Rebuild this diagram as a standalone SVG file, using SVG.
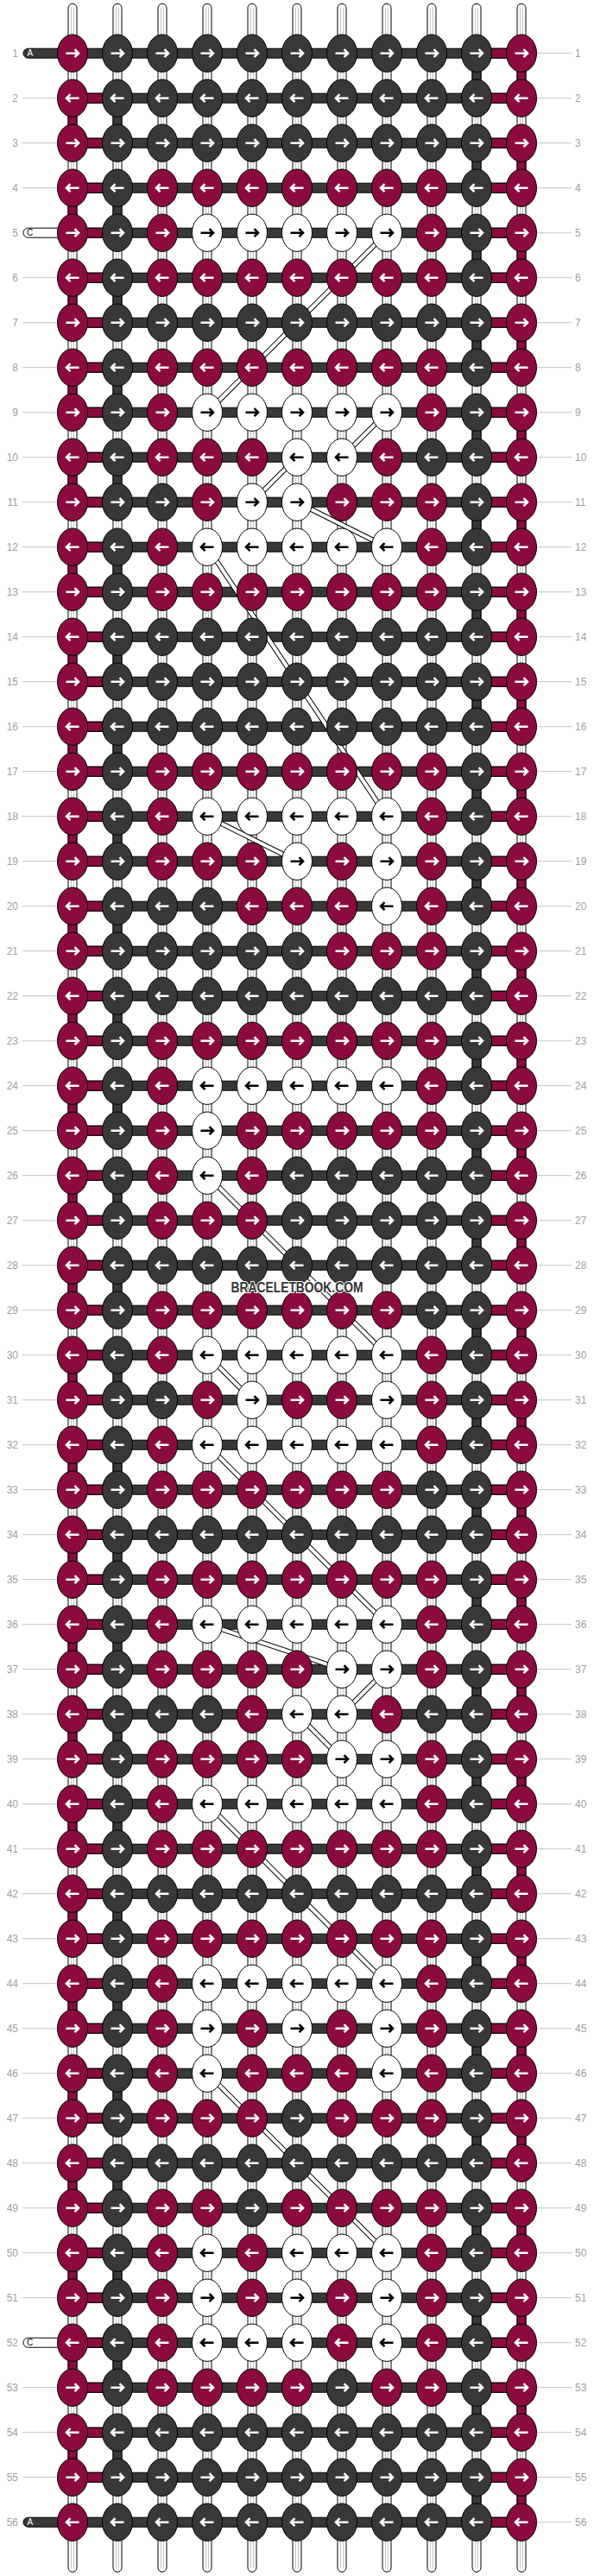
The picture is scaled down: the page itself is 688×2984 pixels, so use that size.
<svg xmlns="http://www.w3.org/2000/svg" width="688" height="2984" viewBox="0 0 688 2984">
<style>
.m{fill:#8b0b3e;stroke:#000;stroke-width:1}
.d{fill:#383838;stroke:#000;stroke-width:1}
.w{fill:#fff;stroke:#000;stroke-width:1}
.aw{fill:none;stroke:#fff;stroke-width:2.6}
.ab{fill:none;stroke:#000;stroke-width:2.6}
.lb{font-family:"Liberation Sans",Arial,sans-serif;font-size:12px;fill:#a0a0a0}
.gl{fill:none;stroke:#c4c4c4;stroke-width:1}
.sg{stroke:#b4b4b4;stroke-width:0.8}
.tab{font-family:"Liberation Sans",Arial,sans-serif;font-size:10px}
</style>
<defs>
<path id="ar" d="M-7.5,0H7M2.5,-4.5L7,0L2.5,4.5"/>
<path id="al" d="M7.5,0H-7M-2.5,-4.5L-7,0L-2.5,4.5"/>
<g id="MR"><ellipse class="m" rx="17.5" ry="21.7"/><use href="#ar" class="aw"/></g>
<g id="ML"><ellipse class="m" rx="17.5" ry="21.7"/><use href="#al" class="aw"/></g>
<g id="DR"><ellipse class="d" rx="17.5" ry="21.7"/><use href="#ar" class="aw"/></g>
<g id="DL"><ellipse class="d" rx="17.5" ry="21.7"/><use href="#al" class="aw"/></g>
<g id="WR"><ellipse class="w" rx="17.5" ry="21.7"/><use href="#ar" class="ab"/></g>
<g id="WL"><ellipse class="w" rx="17.5" ry="21.7"/><use href="#al" class="ab"/></g>
<g id="vL"><rect class="m" x="79" y="15" width="10" height="22"/><rect class="d" x="131" y="15" width="10" height="22"/></g>
<g id="vR"><rect class="d" x="547" y="15" width="10" height="22"/><rect class="m" x="599" y="15" width="10" height="22"/></g>
<g id="hb"><rect class="d" x="84" y="-5.5" width="520" height="11"/><rect class="m" x="84" y="-5.5" width="52" height="11"/><rect class="m" x="552" y="-5.5" width="52" height="11"/></g>
<g id="hbA"><rect class="d" x="84" y="-5.5" width="520" height="11"/><rect class="m" x="552" y="-5.5" width="52" height="11"/></g>
<g id="str"><rect class="w" x="-5" y="4.3" width="10" height="2975" rx="5"/><path class="sg" d="M-1.5,9V2975M1.5,9V2975"/></g>
<path id="fl" fill="none" d="M448,269.7L240,477.7M448,477.7L396,529.7M344,529.7L292,581.7M344,581.7L448,633.7M240,633.7L448,945.7M240,945.7L344,997.7M240,1361.7L448,1569.7M240,1569.7L292,1621.7M240,1673.7L448,1881.7M240,1881.7L396,1933.7M448,1933.7L396,1985.7M344,1985.7L396,2037.7M240,2089.7L448,2297.7M240,2401.7L448,2609.7"/>
</defs>
<rect width="688" height="2984" fill="#fff"/>
<g id="connectors">
<g id="strings">
<use href="#str" x="84"/><use href="#str" x="136"/><use href="#str" x="188"/><use href="#str" x="240"/><use href="#str" x="292"/><use href="#str" x="344"/><use href="#str" x="396"/><use href="#str" x="448"/><use href="#str" x="500"/><use href="#str" x="552"/><use href="#str" x="604"/>
</g>
<g id="vsegs">
<use href="#vR" y="61.7"/><use href="#vL" y="113.7"/><use href="#vR" y="165.7"/><use href="#vL" y="217.7"/><use href="#vR" y="269.7"/><use href="#vL" y="321.7"/><use href="#vR" y="373.7"/><use href="#vL" y="425.7"/><use href="#vR" y="477.7"/><use href="#vL" y="529.7"/><use href="#vR" y="581.7"/><use href="#vL" y="633.7"/><use href="#vR" y="685.7"/><use href="#vL" y="737.7"/><use href="#vR" y="789.7"/><use href="#vL" y="841.7"/><use href="#vR" y="893.7"/><use href="#vL" y="945.7"/><use href="#vR" y="997.7"/><use href="#vL" y="1049.7"/><use href="#vR" y="1101.7"/><use href="#vL" y="1153.7"/><use href="#vR" y="1205.7"/><use href="#vL" y="1257.7"/><use href="#vR" y="1309.7"/><use href="#vL" y="1361.7"/><use href="#vR" y="1413.7"/><use href="#vL" y="1465.7"/><use href="#vR" y="1517.7"/><use href="#vL" y="1569.7"/><use href="#vR" y="1621.7"/><use href="#vL" y="1673.7"/><use href="#vR" y="1725.7"/><use href="#vL" y="1777.7"/><use href="#vR" y="1829.7"/><use href="#vL" y="1881.7"/><use href="#vR" y="1933.7"/><use href="#vL" y="1985.7"/><use href="#vR" y="2037.7"/><use href="#vL" y="2089.7"/><use href="#vR" y="2141.7"/><use href="#vL" y="2193.7"/><use href="#vR" y="2245.7"/><use href="#vL" y="2297.7"/><use href="#vR" y="2349.7"/><use href="#vL" y="2401.7"/><use href="#vR" y="2453.7"/><use href="#vL" y="2505.7"/><use href="#vR" y="2557.7"/><use href="#vL" y="2609.7"/><use href="#vR" y="2661.7"/><use href="#vL" y="2713.7"/><use href="#vR" y="2765.7"/><use href="#vL" y="2817.7"/><use href="#vR" y="2869.7"/>
</g>
<g id="hbars">
<use href="#hbA" y="61.7"/><use href="#hb" y="113.7"/><use href="#hb" y="165.7"/><use href="#hb" y="217.7"/><use href="#hb" y="269.7"/><use href="#hb" y="321.7"/><use href="#hb" y="373.7"/><use href="#hb" y="425.7"/><use href="#hb" y="477.7"/><use href="#hb" y="529.7"/><use href="#hb" y="581.7"/><use href="#hb" y="633.7"/><use href="#hb" y="685.7"/><use href="#hb" y="737.7"/><use href="#hb" y="789.7"/><use href="#hb" y="841.7"/><use href="#hb" y="893.7"/><use href="#hb" y="945.7"/><use href="#hb" y="997.7"/><use href="#hb" y="1049.7"/><use href="#hb" y="1101.7"/><use href="#hb" y="1153.7"/><use href="#hb" y="1205.7"/><use href="#hb" y="1257.7"/><use href="#hb" y="1309.7"/><use href="#hb" y="1361.7"/><use href="#hb" y="1413.7"/><use href="#hb" y="1465.7"/><use href="#hb" y="1517.7"/><use href="#hb" y="1569.7"/><use href="#hb" y="1621.7"/><use href="#hb" y="1673.7"/><use href="#hb" y="1725.7"/><use href="#hb" y="1777.7"/><use href="#hb" y="1829.7"/><use href="#hb" y="1881.7"/><use href="#hb" y="1933.7"/><use href="#hb" y="1985.7"/><use href="#hb" y="2037.7"/><use href="#hb" y="2089.7"/><use href="#hb" y="2141.7"/><use href="#hb" y="2193.7"/><use href="#hb" y="2245.7"/><use href="#hb" y="2297.7"/><use href="#hb" y="2349.7"/><use href="#hb" y="2401.7"/><use href="#hb" y="2453.7"/><use href="#hb" y="2505.7"/><use href="#hb" y="2557.7"/><use href="#hb" y="2609.7"/><use href="#hb" y="2661.7"/><use href="#hb" y="2713.7"/><use href="#hb" y="2765.7"/><use href="#hb" y="2817.7"/><use href="#hb" y="2869.7"/><use href="#hbA" y="2921.7"/>
</g>
<g id="tabs">
<rect class="d" x="27" y="56.2" width="70" height="11" rx="5.5"/><text class="tab" x="31.5" y="65.3" fill="#fff">A</text>
<rect class="w" x="27" y="264.2" width="50" height="11" rx="5.5"/><text class="tab" x="31" y="273.3" fill="#000">C</text>
<rect class="w" x="27" y="2708.2" width="50" height="11" rx="5.5"/><text class="tab" x="31" y="2717.3" fill="#000">C</text>
<rect class="d" x="27" y="2916.2" width="70" height="11" rx="5.5"/><text class="tab" x="31.5" y="2925.3" fill="#fff">A</text>
</g>
<g id="floats">
<use href="#fl" stroke="#000" stroke-width="6"/>
<use href="#fl" stroke="#fff" stroke-width="4"/>
</g>
</g>
<g id="knots">
<g id="r1" transform="translate(0,61.7)"><use id="k1_0" href="#MR" x="84"/><use id="k1_1" href="#DR" x="136"/><use id="k1_2" href="#DR" x="188"/><use id="k1_3" href="#DR" x="240"/><use id="k1_4" href="#DR" x="292"/><use id="k1_5" href="#DR" x="344"/><use id="k1_6" href="#DR" x="396"/><use id="k1_7" href="#DR" x="448"/><use id="k1_8" href="#DR" x="500"/><use id="k1_9" href="#DR" x="552"/><use id="k1_10" href="#MR" x="604"/></g>
<g id="r2" transform="translate(0,113.7)"><use id="k2_0" href="#ML" x="84"/><use id="k2_1" href="#DL" x="136"/><use id="k2_2" href="#DL" x="188"/><use id="k2_3" href="#DL" x="240"/><use id="k2_4" href="#DL" x="292"/><use id="k2_5" href="#DL" x="344"/><use id="k2_6" href="#DL" x="396"/><use id="k2_7" href="#DL" x="448"/><use id="k2_8" href="#DL" x="500"/><use id="k2_9" href="#DL" x="552"/><use id="k2_10" href="#ML" x="604"/></g>
<g id="r3" transform="translate(0,165.7)"><use id="k3_0" href="#MR" x="84"/><use id="k3_1" href="#DR" x="136"/><use id="k3_2" href="#DR" x="188"/><use id="k3_3" href="#DR" x="240"/><use id="k3_4" href="#DR" x="292"/><use id="k3_5" href="#DR" x="344"/><use id="k3_6" href="#DR" x="396"/><use id="k3_7" href="#DR" x="448"/><use id="k3_8" href="#DR" x="500"/><use id="k3_9" href="#DR" x="552"/><use id="k3_10" href="#MR" x="604"/></g>
<g id="r4" transform="translate(0,217.7)"><use id="k4_0" href="#ML" x="84"/><use id="k4_1" href="#DL" x="136"/><use id="k4_2" href="#ML" x="188"/><use id="k4_3" href="#ML" x="240"/><use id="k4_4" href="#ML" x="292"/><use id="k4_5" href="#ML" x="344"/><use id="k4_6" href="#ML" x="396"/><use id="k4_7" href="#ML" x="448"/><use id="k4_8" href="#ML" x="500"/><use id="k4_9" href="#DL" x="552"/><use id="k4_10" href="#ML" x="604"/></g>
<g id="r5" transform="translate(0,269.7)"><use id="k5_0" href="#MR" x="84"/><use id="k5_1" href="#DR" x="136"/><use id="k5_2" href="#MR" x="188"/><use id="k5_3" href="#WR" x="240"/><use id="k5_4" href="#WR" x="292"/><use id="k5_5" href="#WR" x="344"/><use id="k5_6" href="#WR" x="396"/><use id="k5_7" href="#WR" x="448"/><use id="k5_8" href="#MR" x="500"/><use id="k5_9" href="#DR" x="552"/><use id="k5_10" href="#MR" x="604"/></g>
<g id="r6" transform="translate(0,321.7)"><use id="k6_0" href="#ML" x="84"/><use id="k6_1" href="#DL" x="136"/><use id="k6_2" href="#ML" x="188"/><use id="k6_3" href="#ML" x="240"/><use id="k6_4" href="#ML" x="292"/><use id="k6_5" href="#ML" x="344"/><use id="k6_6" href="#ML" x="396"/><use id="k6_7" href="#ML" x="448"/><use id="k6_8" href="#ML" x="500"/><use id="k6_9" href="#DL" x="552"/><use id="k6_10" href="#ML" x="604"/></g>
<g id="r7" transform="translate(0,373.7)"><use id="k7_0" href="#MR" x="84"/><use id="k7_1" href="#DR" x="136"/><use id="k7_2" href="#DR" x="188"/><use id="k7_3" href="#DR" x="240"/><use id="k7_4" href="#DR" x="292"/><use id="k7_5" href="#DR" x="344"/><use id="k7_6" href="#DR" x="396"/><use id="k7_7" href="#DR" x="448"/><use id="k7_8" href="#DR" x="500"/><use id="k7_9" href="#DR" x="552"/><use id="k7_10" href="#MR" x="604"/></g>
<g id="r8" transform="translate(0,425.7)"><use id="k8_0" href="#ML" x="84"/><use id="k8_1" href="#DL" x="136"/><use id="k8_2" href="#ML" x="188"/><use id="k8_3" href="#ML" x="240"/><use id="k8_4" href="#ML" x="292"/><use id="k8_5" href="#ML" x="344"/><use id="k8_6" href="#ML" x="396"/><use id="k8_7" href="#ML" x="448"/><use id="k8_8" href="#ML" x="500"/><use id="k8_9" href="#DL" x="552"/><use id="k8_10" href="#ML" x="604"/></g>
<g id="r9" transform="translate(0,477.7)"><use id="k9_0" href="#MR" x="84"/><use id="k9_1" href="#DR" x="136"/><use id="k9_2" href="#MR" x="188"/><use id="k9_3" href="#WR" x="240"/><use id="k9_4" href="#WR" x="292"/><use id="k9_5" href="#WR" x="344"/><use id="k9_6" href="#WR" x="396"/><use id="k9_7" href="#WR" x="448"/><use id="k9_8" href="#MR" x="500"/><use id="k9_9" href="#DR" x="552"/><use id="k9_10" href="#MR" x="604"/></g>
<g id="r10" transform="translate(0,529.7)"><use id="k10_0" href="#ML" x="84"/><use id="k10_1" href="#DL" x="136"/><use id="k10_2" href="#ML" x="188"/><use id="k10_3" href="#ML" x="240"/><use id="k10_4" href="#ML" x="292"/><use id="k10_5" href="#WL" x="344"/><use id="k10_6" href="#WL" x="396"/><use id="k10_7" href="#ML" x="448"/><use id="k10_8" href="#DL" x="500"/><use id="k10_9" href="#DL" x="552"/><use id="k10_10" href="#ML" x="604"/></g>
<g id="r11" transform="translate(0,581.7)"><use id="k11_0" href="#MR" x="84"/><use id="k11_1" href="#DR" x="136"/><use id="k11_2" href="#DR" x="188"/><use id="k11_3" href="#MR" x="240"/><use id="k11_4" href="#WR" x="292"/><use id="k11_5" href="#WR" x="344"/><use id="k11_6" href="#MR" x="396"/><use id="k11_7" href="#MR" x="448"/><use id="k11_8" href="#MR" x="500"/><use id="k11_9" href="#DR" x="552"/><use id="k11_10" href="#MR" x="604"/></g>
<g id="r12" transform="translate(0,633.7)"><use id="k12_0" href="#ML" x="84"/><use id="k12_1" href="#DL" x="136"/><use id="k12_2" href="#ML" x="188"/><use id="k12_3" href="#WL" x="240"/><use id="k12_4" href="#WL" x="292"/><use id="k12_5" href="#WL" x="344"/><use id="k12_6" href="#WL" x="396"/><use id="k12_7" href="#WL" x="448"/><use id="k12_8" href="#ML" x="500"/><use id="k12_9" href="#DL" x="552"/><use id="k12_10" href="#ML" x="604"/></g>
<g id="r13" transform="translate(0,685.7)"><use id="k13_0" href="#MR" x="84"/><use id="k13_1" href="#DR" x="136"/><use id="k13_2" href="#MR" x="188"/><use id="k13_3" href="#MR" x="240"/><use id="k13_4" href="#MR" x="292"/><use id="k13_5" href="#MR" x="344"/><use id="k13_6" href="#MR" x="396"/><use id="k13_7" href="#MR" x="448"/><use id="k13_8" href="#MR" x="500"/><use id="k13_9" href="#DR" x="552"/><use id="k13_10" href="#MR" x="604"/></g>
<g id="r14" transform="translate(0,737.7)"><use id="k14_0" href="#ML" x="84"/><use id="k14_1" href="#DL" x="136"/><use id="k14_2" href="#DL" x="188"/><use id="k14_3" href="#DL" x="240"/><use id="k14_4" href="#DL" x="292"/><use id="k14_5" href="#DL" x="344"/><use id="k14_6" href="#DL" x="396"/><use id="k14_7" href="#DL" x="448"/><use id="k14_8" href="#DL" x="500"/><use id="k14_9" href="#DL" x="552"/><use id="k14_10" href="#ML" x="604"/></g>
<g id="r15" transform="translate(0,789.7)"><use id="k15_0" href="#MR" x="84"/><use id="k15_1" href="#DR" x="136"/><use id="k15_2" href="#DR" x="188"/><use id="k15_3" href="#DR" x="240"/><use id="k15_4" href="#DR" x="292"/><use id="k15_5" href="#DR" x="344"/><use id="k15_6" href="#DR" x="396"/><use id="k15_7" href="#DR" x="448"/><use id="k15_8" href="#DR" x="500"/><use id="k15_9" href="#DR" x="552"/><use id="k15_10" href="#MR" x="604"/></g>
<g id="r16" transform="translate(0,841.7)"><use id="k16_0" href="#ML" x="84"/><use id="k16_1" href="#DL" x="136"/><use id="k16_2" href="#DL" x="188"/><use id="k16_3" href="#DL" x="240"/><use id="k16_4" href="#DL" x="292"/><use id="k16_5" href="#DL" x="344"/><use id="k16_6" href="#DL" x="396"/><use id="k16_7" href="#DL" x="448"/><use id="k16_8" href="#DL" x="500"/><use id="k16_9" href="#DL" x="552"/><use id="k16_10" href="#ML" x="604"/></g>
<g id="r17" transform="translate(0,893.7)"><use id="k17_0" href="#MR" x="84"/><use id="k17_1" href="#DR" x="136"/><use id="k17_2" href="#MR" x="188"/><use id="k17_3" href="#MR" x="240"/><use id="k17_4" href="#MR" x="292"/><use id="k17_5" href="#MR" x="344"/><use id="k17_6" href="#MR" x="396"/><use id="k17_7" href="#MR" x="448"/><use id="k17_8" href="#MR" x="500"/><use id="k17_9" href="#DR" x="552"/><use id="k17_10" href="#MR" x="604"/></g>
<g id="r18" transform="translate(0,945.7)"><use id="k18_0" href="#ML" x="84"/><use id="k18_1" href="#DL" x="136"/><use id="k18_2" href="#ML" x="188"/><use id="k18_3" href="#WL" x="240"/><use id="k18_4" href="#WL" x="292"/><use id="k18_5" href="#WL" x="344"/><use id="k18_6" href="#WL" x="396"/><use id="k18_7" href="#WL" x="448"/><use id="k18_8" href="#ML" x="500"/><use id="k18_9" href="#DL" x="552"/><use id="k18_10" href="#ML" x="604"/></g>
<g id="r19" transform="translate(0,997.7)"><use id="k19_0" href="#MR" x="84"/><use id="k19_1" href="#DR" x="136"/><use id="k19_2" href="#MR" x="188"/><use id="k19_3" href="#MR" x="240"/><use id="k19_4" href="#MR" x="292"/><use id="k19_5" href="#WR" x="344"/><use id="k19_6" href="#MR" x="396"/><use id="k19_7" href="#WR" x="448"/><use id="k19_8" href="#MR" x="500"/><use id="k19_9" href="#DR" x="552"/><use id="k19_10" href="#MR" x="604"/></g>
<g id="r20" transform="translate(0,1049.7)"><use id="k20_0" href="#ML" x="84"/><use id="k20_1" href="#DL" x="136"/><use id="k20_2" href="#DL" x="188"/><use id="k20_3" href="#DL" x="240"/><use id="k20_4" href="#ML" x="292"/><use id="k20_5" href="#ML" x="344"/><use id="k20_6" href="#ML" x="396"/><use id="k20_7" href="#WL" x="448"/><use id="k20_8" href="#ML" x="500"/><use id="k20_9" href="#DL" x="552"/><use id="k20_10" href="#ML" x="604"/></g>
<g id="r21" transform="translate(0,1101.7)"><use id="k21_0" href="#MR" x="84"/><use id="k21_1" href="#DR" x="136"/><use id="k21_2" href="#DR" x="188"/><use id="k21_3" href="#DR" x="240"/><use id="k21_4" href="#DR" x="292"/><use id="k21_5" href="#DR" x="344"/><use id="k21_6" href="#MR" x="396"/><use id="k21_7" href="#MR" x="448"/><use id="k21_8" href="#MR" x="500"/><use id="k21_9" href="#DR" x="552"/><use id="k21_10" href="#MR" x="604"/></g>
<g id="r22" transform="translate(0,1153.7)"><use id="k22_0" href="#ML" x="84"/><use id="k22_1" href="#DL" x="136"/><use id="k22_2" href="#DL" x="188"/><use id="k22_3" href="#DL" x="240"/><use id="k22_4" href="#DL" x="292"/><use id="k22_5" href="#DL" x="344"/><use id="k22_6" href="#DL" x="396"/><use id="k22_7" href="#DL" x="448"/><use id="k22_8" href="#DL" x="500"/><use id="k22_9" href="#DL" x="552"/><use id="k22_10" href="#ML" x="604"/></g>
<g id="r23" transform="translate(0,1205.7)"><use id="k23_0" href="#MR" x="84"/><use id="k23_1" href="#DR" x="136"/><use id="k23_2" href="#MR" x="188"/><use id="k23_3" href="#MR" x="240"/><use id="k23_4" href="#MR" x="292"/><use id="k23_5" href="#MR" x="344"/><use id="k23_6" href="#MR" x="396"/><use id="k23_7" href="#MR" x="448"/><use id="k23_8" href="#MR" x="500"/><use id="k23_9" href="#DR" x="552"/><use id="k23_10" href="#MR" x="604"/></g>
<g id="r24" transform="translate(0,1257.7)"><use id="k24_0" href="#ML" x="84"/><use id="k24_1" href="#DL" x="136"/><use id="k24_2" href="#ML" x="188"/><use id="k24_3" href="#WL" x="240"/><use id="k24_4" href="#WL" x="292"/><use id="k24_5" href="#WL" x="344"/><use id="k24_6" href="#WL" x="396"/><use id="k24_7" href="#WL" x="448"/><use id="k24_8" href="#ML" x="500"/><use id="k24_9" href="#DL" x="552"/><use id="k24_10" href="#ML" x="604"/></g>
<g id="r25" transform="translate(0,1309.7)"><use id="k25_0" href="#MR" x="84"/><use id="k25_1" href="#DR" x="136"/><use id="k25_2" href="#MR" x="188"/><use id="k25_3" href="#WR" x="240"/><use id="k25_4" href="#MR" x="292"/><use id="k25_5" href="#MR" x="344"/><use id="k25_6" href="#MR" x="396"/><use id="k25_7" href="#MR" x="448"/><use id="k25_8" href="#MR" x="500"/><use id="k25_9" href="#DR" x="552"/><use id="k25_10" href="#MR" x="604"/></g>
<g id="r26" transform="translate(0,1361.7)"><use id="k26_0" href="#ML" x="84"/><use id="k26_1" href="#DL" x="136"/><use id="k26_2" href="#ML" x="188"/><use id="k26_3" href="#WL" x="240"/><use id="k26_4" href="#ML" x="292"/><use id="k26_5" href="#DL" x="344"/><use id="k26_6" href="#DL" x="396"/><use id="k26_7" href="#DL" x="448"/><use id="k26_8" href="#DL" x="500"/><use id="k26_9" href="#DL" x="552"/><use id="k26_10" href="#ML" x="604"/></g>
<g id="r27" transform="translate(0,1413.7)"><use id="k27_0" href="#MR" x="84"/><use id="k27_1" href="#DR" x="136"/><use id="k27_2" href="#MR" x="188"/><use id="k27_3" href="#MR" x="240"/><use id="k27_4" href="#MR" x="292"/><use id="k27_5" href="#DR" x="344"/><use id="k27_6" href="#DR" x="396"/><use id="k27_7" href="#DR" x="448"/><use id="k27_8" href="#DR" x="500"/><use id="k27_9" href="#DR" x="552"/><use id="k27_10" href="#MR" x="604"/></g>
<g id="r28" transform="translate(0,1465.7)"><use id="k28_0" href="#ML" x="84"/><use id="k28_1" href="#DL" x="136"/><use id="k28_2" href="#DL" x="188"/><use id="k28_3" href="#DL" x="240"/><use id="k28_4" href="#DL" x="292"/><use id="k28_5" href="#DL" x="344"/><use id="k28_6" href="#DL" x="396"/><use id="k28_7" href="#DL" x="448"/><use id="k28_8" href="#DL" x="500"/><use id="k28_9" href="#DL" x="552"/><use id="k28_10" href="#ML" x="604"/></g>
<g id="r29" transform="translate(0,1517.7)"><use id="k29_0" href="#MR" x="84"/><use id="k29_1" href="#DR" x="136"/><use id="k29_2" href="#MR" x="188"/><use id="k29_3" href="#MR" x="240"/><use id="k29_4" href="#MR" x="292"/><use id="k29_5" href="#MR" x="344"/><use id="k29_6" href="#MR" x="396"/><use id="k29_7" href="#MR" x="448"/><use id="k29_8" href="#DR" x="500"/><use id="k29_9" href="#DR" x="552"/><use id="k29_10" href="#MR" x="604"/></g>
<g id="r30" transform="translate(0,1569.7)"><use id="k30_0" href="#ML" x="84"/><use id="k30_1" href="#DL" x="136"/><use id="k30_2" href="#ML" x="188"/><use id="k30_3" href="#WL" x="240"/><use id="k30_4" href="#WL" x="292"/><use id="k30_5" href="#WL" x="344"/><use id="k30_6" href="#WL" x="396"/><use id="k30_7" href="#WL" x="448"/><use id="k30_8" href="#ML" x="500"/><use id="k30_9" href="#DL" x="552"/><use id="k30_10" href="#ML" x="604"/></g>
<g id="r31" transform="translate(0,1621.7)"><use id="k31_0" href="#MR" x="84"/><use id="k31_1" href="#DR" x="136"/><use id="k31_2" href="#DR" x="188"/><use id="k31_3" href="#MR" x="240"/><use id="k31_4" href="#WR" x="292"/><use id="k31_5" href="#MR" x="344"/><use id="k31_6" href="#MR" x="396"/><use id="k31_7" href="#WR" x="448"/><use id="k31_8" href="#MR" x="500"/><use id="k31_9" href="#DR" x="552"/><use id="k31_10" href="#MR" x="604"/></g>
<g id="r32" transform="translate(0,1673.7)"><use id="k32_0" href="#ML" x="84"/><use id="k32_1" href="#DL" x="136"/><use id="k32_2" href="#ML" x="188"/><use id="k32_3" href="#WL" x="240"/><use id="k32_4" href="#WL" x="292"/><use id="k32_5" href="#WL" x="344"/><use id="k32_6" href="#WL" x="396"/><use id="k32_7" href="#WL" x="448"/><use id="k32_8" href="#ML" x="500"/><use id="k32_9" href="#DL" x="552"/><use id="k32_10" href="#ML" x="604"/></g>
<g id="r33" transform="translate(0,1725.7)"><use id="k33_0" href="#MR" x="84"/><use id="k33_1" href="#DR" x="136"/><use id="k33_2" href="#MR" x="188"/><use id="k33_3" href="#MR" x="240"/><use id="k33_4" href="#MR" x="292"/><use id="k33_5" href="#MR" x="344"/><use id="k33_6" href="#MR" x="396"/><use id="k33_7" href="#MR" x="448"/><use id="k33_8" href="#DR" x="500"/><use id="k33_9" href="#DR" x="552"/><use id="k33_10" href="#MR" x="604"/></g>
<g id="r34" transform="translate(0,1777.7)"><use id="k34_0" href="#ML" x="84"/><use id="k34_1" href="#DL" x="136"/><use id="k34_2" href="#DL" x="188"/><use id="k34_3" href="#DL" x="240"/><use id="k34_4" href="#DL" x="292"/><use id="k34_5" href="#DL" x="344"/><use id="k34_6" href="#DL" x="396"/><use id="k34_7" href="#DL" x="448"/><use id="k34_8" href="#DL" x="500"/><use id="k34_9" href="#DL" x="552"/><use id="k34_10" href="#ML" x="604"/></g>
<g id="r35" transform="translate(0,1829.7)"><use id="k35_0" href="#MR" x="84"/><use id="k35_1" href="#DR" x="136"/><use id="k35_2" href="#MR" x="188"/><use id="k35_3" href="#MR" x="240"/><use id="k35_4" href="#MR" x="292"/><use id="k35_5" href="#MR" x="344"/><use id="k35_6" href="#MR" x="396"/><use id="k35_7" href="#MR" x="448"/><use id="k35_8" href="#MR" x="500"/><use id="k35_9" href="#DR" x="552"/><use id="k35_10" href="#MR" x="604"/></g>
<g id="r36" transform="translate(0,1881.7)"><use id="k36_0" href="#ML" x="84"/><use id="k36_1" href="#DL" x="136"/><use id="k36_2" href="#ML" x="188"/><use id="k36_3" href="#WL" x="240"/><use id="k36_4" href="#WL" x="292"/><use id="k36_5" href="#WL" x="344"/><use id="k36_6" href="#WL" x="396"/><use id="k36_7" href="#WL" x="448"/><use id="k36_8" href="#ML" x="500"/><use id="k36_9" href="#DL" x="552"/><use id="k36_10" href="#ML" x="604"/></g>
<g id="r37" transform="translate(0,1933.7)"><use id="k37_0" href="#MR" x="84"/><use id="k37_1" href="#DR" x="136"/><use id="k37_2" href="#MR" x="188"/><use id="k37_3" href="#MR" x="240"/><use id="k37_4" href="#MR" x="292"/><use id="k37_5" href="#MR" x="344"/><use id="k37_6" href="#WR" x="396"/><use id="k37_7" href="#WR" x="448"/><use id="k37_8" href="#MR" x="500"/><use id="k37_9" href="#DR" x="552"/><use id="k37_10" href="#MR" x="604"/></g>
<g id="r38" transform="translate(0,1985.7)"><use id="k38_0" href="#ML" x="84"/><use id="k38_1" href="#DL" x="136"/><use id="k38_2" href="#DL" x="188"/><use id="k38_3" href="#DL" x="240"/><use id="k38_4" href="#ML" x="292"/><use id="k38_5" href="#WL" x="344"/><use id="k38_6" href="#WL" x="396"/><use id="k38_7" href="#ML" x="448"/><use id="k38_8" href="#DL" x="500"/><use id="k38_9" href="#DL" x="552"/><use id="k38_10" href="#ML" x="604"/></g>
<g id="r39" transform="translate(0,2037.7)"><use id="k39_0" href="#MR" x="84"/><use id="k39_1" href="#DR" x="136"/><use id="k39_2" href="#MR" x="188"/><use id="k39_3" href="#MR" x="240"/><use id="k39_4" href="#MR" x="292"/><use id="k39_5" href="#MR" x="344"/><use id="k39_6" href="#WR" x="396"/><use id="k39_7" href="#WR" x="448"/><use id="k39_8" href="#MR" x="500"/><use id="k39_9" href="#DR" x="552"/><use id="k39_10" href="#MR" x="604"/></g>
<g id="r40" transform="translate(0,2089.7)"><use id="k40_0" href="#ML" x="84"/><use id="k40_1" href="#DL" x="136"/><use id="k40_2" href="#ML" x="188"/><use id="k40_3" href="#WL" x="240"/><use id="k40_4" href="#WL" x="292"/><use id="k40_5" href="#WL" x="344"/><use id="k40_6" href="#WL" x="396"/><use id="k40_7" href="#WL" x="448"/><use id="k40_8" href="#ML" x="500"/><use id="k40_9" href="#DL" x="552"/><use id="k40_10" href="#ML" x="604"/></g>
<g id="r41" transform="translate(0,2141.7)"><use id="k41_0" href="#MR" x="84"/><use id="k41_1" href="#DR" x="136"/><use id="k41_2" href="#MR" x="188"/><use id="k41_3" href="#MR" x="240"/><use id="k41_4" href="#MR" x="292"/><use id="k41_5" href="#MR" x="344"/><use id="k41_6" href="#MR" x="396"/><use id="k41_7" href="#MR" x="448"/><use id="k41_8" href="#MR" x="500"/><use id="k41_9" href="#DR" x="552"/><use id="k41_10" href="#MR" x="604"/></g>
<g id="r42" transform="translate(0,2193.7)"><use id="k42_0" href="#ML" x="84"/><use id="k42_1" href="#DL" x="136"/><use id="k42_2" href="#DL" x="188"/><use id="k42_3" href="#DL" x="240"/><use id="k42_4" href="#DL" x="292"/><use id="k42_5" href="#DL" x="344"/><use id="k42_6" href="#DL" x="396"/><use id="k42_7" href="#DL" x="448"/><use id="k42_8" href="#DL" x="500"/><use id="k42_9" href="#DL" x="552"/><use id="k42_10" href="#ML" x="604"/></g>
<g id="r43" transform="translate(0,2245.7)"><use id="k43_0" href="#MR" x="84"/><use id="k43_1" href="#DR" x="136"/><use id="k43_2" href="#MR" x="188"/><use id="k43_3" href="#MR" x="240"/><use id="k43_4" href="#MR" x="292"/><use id="k43_5" href="#MR" x="344"/><use id="k43_6" href="#MR" x="396"/><use id="k43_7" href="#MR" x="448"/><use id="k43_8" href="#MR" x="500"/><use id="k43_9" href="#DR" x="552"/><use id="k43_10" href="#MR" x="604"/></g>
<g id="r44" transform="translate(0,2297.7)"><use id="k44_0" href="#ML" x="84"/><use id="k44_1" href="#DL" x="136"/><use id="k44_2" href="#ML" x="188"/><use id="k44_3" href="#WL" x="240"/><use id="k44_4" href="#WL" x="292"/><use id="k44_5" href="#WL" x="344"/><use id="k44_6" href="#WL" x="396"/><use id="k44_7" href="#WL" x="448"/><use id="k44_8" href="#ML" x="500"/><use id="k44_9" href="#DL" x="552"/><use id="k44_10" href="#ML" x="604"/></g>
<g id="r45" transform="translate(0,2349.7)"><use id="k45_0" href="#MR" x="84"/><use id="k45_1" href="#DR" x="136"/><use id="k45_2" href="#MR" x="188"/><use id="k45_3" href="#WR" x="240"/><use id="k45_4" href="#MR" x="292"/><use id="k45_5" href="#WR" x="344"/><use id="k45_6" href="#MR" x="396"/><use id="k45_7" href="#WR" x="448"/><use id="k45_8" href="#MR" x="500"/><use id="k45_9" href="#DR" x="552"/><use id="k45_10" href="#MR" x="604"/></g>
<g id="r46" transform="translate(0,2401.7)"><use id="k46_0" href="#ML" x="84"/><use id="k46_1" href="#DL" x="136"/><use id="k46_2" href="#ML" x="188"/><use id="k46_3" href="#WL" x="240"/><use id="k46_4" href="#ML" x="292"/><use id="k46_5" href="#ML" x="344"/><use id="k46_6" href="#ML" x="396"/><use id="k46_7" href="#WL" x="448"/><use id="k46_8" href="#ML" x="500"/><use id="k46_9" href="#DL" x="552"/><use id="k46_10" href="#ML" x="604"/></g>
<g id="r47" transform="translate(0,2453.7)"><use id="k47_0" href="#MR" x="84"/><use id="k47_1" href="#DR" x="136"/><use id="k47_2" href="#MR" x="188"/><use id="k47_3" href="#MR" x="240"/><use id="k47_4" href="#MR" x="292"/><use id="k47_5" href="#DR" x="344"/><use id="k47_6" href="#MR" x="396"/><use id="k47_7" href="#MR" x="448"/><use id="k47_8" href="#MR" x="500"/><use id="k47_9" href="#DR" x="552"/><use id="k47_10" href="#MR" x="604"/></g>
<g id="r48" transform="translate(0,2505.7)"><use id="k48_0" href="#ML" x="84"/><use id="k48_1" href="#DL" x="136"/><use id="k48_2" href="#DL" x="188"/><use id="k48_3" href="#DL" x="240"/><use id="k48_4" href="#DL" x="292"/><use id="k48_5" href="#DL" x="344"/><use id="k48_6" href="#DL" x="396"/><use id="k48_7" href="#DL" x="448"/><use id="k48_8" href="#DL" x="500"/><use id="k48_9" href="#DL" x="552"/><use id="k48_10" href="#ML" x="604"/></g>
<g id="r49" transform="translate(0,2557.7)"><use id="k49_0" href="#MR" x="84"/><use id="k49_1" href="#DR" x="136"/><use id="k49_2" href="#MR" x="188"/><use id="k49_3" href="#MR" x="240"/><use id="k49_4" href="#DR" x="292"/><use id="k49_5" href="#MR" x="344"/><use id="k49_6" href="#MR" x="396"/><use id="k49_7" href="#MR" x="448"/><use id="k49_8" href="#MR" x="500"/><use id="k49_9" href="#DR" x="552"/><use id="k49_10" href="#MR" x="604"/></g>
<g id="r50" transform="translate(0,2609.7)"><use id="k50_0" href="#ML" x="84"/><use id="k50_1" href="#DL" x="136"/><use id="k50_2" href="#ML" x="188"/><use id="k50_3" href="#WL" x="240"/><use id="k50_4" href="#ML" x="292"/><use id="k50_5" href="#WL" x="344"/><use id="k50_6" href="#WL" x="396"/><use id="k50_7" href="#WL" x="448"/><use id="k50_8" href="#ML" x="500"/><use id="k50_9" href="#DL" x="552"/><use id="k50_10" href="#ML" x="604"/></g>
<g id="r51" transform="translate(0,2661.7)"><use id="k51_0" href="#MR" x="84"/><use id="k51_1" href="#DR" x="136"/><use id="k51_2" href="#MR" x="188"/><use id="k51_3" href="#WR" x="240"/><use id="k51_4" href="#MR" x="292"/><use id="k51_5" href="#WR" x="344"/><use id="k51_6" href="#MR" x="396"/><use id="k51_7" href="#WR" x="448"/><use id="k51_8" href="#MR" x="500"/><use id="k51_9" href="#DR" x="552"/><use id="k51_10" href="#MR" x="604"/></g>
<g id="r52" transform="translate(0,2713.7)"><use id="k52_0" href="#ML" x="84"/><use id="k52_1" href="#DL" x="136"/><use id="k52_2" href="#ML" x="188"/><use id="k52_3" href="#WL" x="240"/><use id="k52_4" href="#WL" x="292"/><use id="k52_5" href="#WL" x="344"/><use id="k52_6" href="#ML" x="396"/><use id="k52_7" href="#WL" x="448"/><use id="k52_8" href="#ML" x="500"/><use id="k52_9" href="#DL" x="552"/><use id="k52_10" href="#ML" x="604"/></g>
<g id="r53" transform="translate(0,2765.7)"><use id="k53_0" href="#MR" x="84"/><use id="k53_1" href="#DR" x="136"/><use id="k53_2" href="#MR" x="188"/><use id="k53_3" href="#MR" x="240"/><use id="k53_4" href="#MR" x="292"/><use id="k53_5" href="#MR" x="344"/><use id="k53_6" href="#DR" x="396"/><use id="k53_7" href="#MR" x="448"/><use id="k53_8" href="#MR" x="500"/><use id="k53_9" href="#DR" x="552"/><use id="k53_10" href="#MR" x="604"/></g>
<g id="r54" transform="translate(0,2817.7)"><use id="k54_0" href="#ML" x="84"/><use id="k54_1" href="#DL" x="136"/><use id="k54_2" href="#DL" x="188"/><use id="k54_3" href="#DL" x="240"/><use id="k54_4" href="#DL" x="292"/><use id="k54_5" href="#DL" x="344"/><use id="k54_6" href="#DL" x="396"/><use id="k54_7" href="#DL" x="448"/><use id="k54_8" href="#DL" x="500"/><use id="k54_9" href="#DL" x="552"/><use id="k54_10" href="#ML" x="604"/></g>
<g id="r55" transform="translate(0,2869.7)"><use id="k55_0" href="#MR" x="84"/><use id="k55_1" href="#DR" x="136"/><use id="k55_2" href="#DR" x="188"/><use id="k55_3" href="#DR" x="240"/><use id="k55_4" href="#DR" x="292"/><use id="k55_5" href="#DR" x="344"/><use id="k55_6" href="#DR" x="396"/><use id="k55_7" href="#DR" x="448"/><use id="k55_8" href="#DR" x="500"/><use id="k55_9" href="#DR" x="552"/><use id="k55_10" href="#MR" x="604"/></g>
<g id="r56" transform="translate(0,2921.7)"><use id="k56_0" href="#ML" x="84"/><use id="k56_1" href="#DL" x="136"/><use id="k56_2" href="#DL" x="188"/><use id="k56_3" href="#DL" x="240"/><use id="k56_4" href="#DL" x="292"/><use id="k56_5" href="#DL" x="344"/><use id="k56_6" href="#DL" x="396"/><use id="k56_7" href="#DL" x="448"/><use id="k56_8" href="#DL" x="500"/><use id="k56_9" href="#DL" x="552"/><use id="k56_10" href="#ML" x="604"/></g>
</g>
<g id="watermark"><text x="344" y="1497.3" text-anchor="middle" font-family="'Liberation Sans',Arial,sans-serif" font-weight="bold" font-size="15.8" textLength="153" lengthAdjust="spacingAndGlyphs" fill="#333" stroke="#fff" stroke-width="2" paint-order="stroke">BRACELETBOOK.COM</text></g>
<g id="labels">
<path class="gl" d="M26,113.7H66M26,165.7H66M26,217.7H66M26,321.7H66M26,373.7H66M26,425.7H66M26,477.7H66M26,529.7H66M26,581.7H66M26,633.7H66M26,685.7H66M26,737.7H66M26,789.7H66M26,841.7H66M26,893.7H66M26,945.7H66M26,997.7H66M26,1049.7H66M26,1101.7H66M26,1153.7H66M26,1205.7H66M26,1257.7H66M26,1309.7H66M26,1361.7H66M26,1413.7H66M26,1465.7H66M26,1517.7H66M26,1569.7H66M26,1621.7H66M26,1673.7H66M26,1725.7H66M26,1777.7H66M26,1829.7H66M26,1881.7H66M26,1933.7H66M26,1985.7H66M26,2037.7H66M26,2089.7H66M26,2141.7H66M26,2193.7H66M26,2245.7H66M26,2297.7H66M26,2349.7H66M26,2401.7H66M26,2453.7H66M26,2505.7H66M26,2557.7H66M26,2609.7H66M26,2661.7H66M26,2765.7H66M26,2817.7H66M26,2869.7H66"/>
<path class="gl" d="M622,61.7H662M622,113.7H662M622,165.7H662M622,217.7H662M622,269.7H662M622,321.7H662M622,373.7H662M622,425.7H662M622,477.7H662M622,529.7H662M622,581.7H662M622,633.7H662M622,685.7H662M622,737.7H662M622,789.7H662M622,841.7H662M622,893.7H662M622,945.7H662M622,997.7H662M622,1049.7H662M622,1101.7H662M622,1153.7H662M622,1205.7H662M622,1257.7H662M622,1309.7H662M622,1361.7H662M622,1413.7H662M622,1465.7H662M622,1517.7H662M622,1569.7H662M622,1621.7H662M622,1673.7H662M622,1725.7H662M622,1777.7H662M622,1829.7H662M622,1881.7H662M622,1933.7H662M622,1985.7H662M622,2037.7H662M622,2089.7H662M622,2141.7H662M622,2193.7H662M622,2245.7H662M622,2297.7H662M622,2349.7H662M622,2401.7H662M622,2453.7H662M622,2505.7H662M622,2557.7H662M622,2609.7H662M622,2661.7H662M622,2713.7H662M622,2765.7H662M622,2817.7H662M622,2869.7H662M622,2921.7H662"/>
<g class="lb" text-anchor="end">
<text x="21" y="66">1</text><text x="21" y="118">2</text><text x="21" y="170">3</text><text x="21" y="222">4</text><text x="21" y="274">5</text><text x="21" y="326">6</text><text x="21" y="378">7</text><text x="21" y="430">8</text><text x="21" y="482">9</text><text x="21" y="534">10</text><text x="21" y="586">11</text><text x="21" y="638">12</text><text x="21" y="690">13</text><text x="21" y="742">14</text><text x="21" y="794">15</text><text x="21" y="846">16</text><text x="21" y="898">17</text><text x="21" y="950">18</text><text x="21" y="1002">19</text><text x="21" y="1054">20</text><text x="21" y="1106">21</text><text x="21" y="1158">22</text><text x="21" y="1210">23</text><text x="21" y="1262">24</text><text x="21" y="1314">25</text><text x="21" y="1366">26</text><text x="21" y="1418">27</text><text x="21" y="1470">28</text><text x="21" y="1522">29</text><text x="21" y="1574">30</text><text x="21" y="1626">31</text><text x="21" y="1678">32</text><text x="21" y="1730">33</text><text x="21" y="1782">34</text><text x="21" y="1834">35</text><text x="21" y="1886">36</text><text x="21" y="1938">37</text><text x="21" y="1990">38</text><text x="21" y="2042">39</text><text x="21" y="2094">40</text><text x="21" y="2146">41</text><text x="21" y="2198">42</text><text x="21" y="2250">43</text><text x="21" y="2302">44</text><text x="21" y="2354">45</text><text x="21" y="2406">46</text><text x="21" y="2458">47</text><text x="21" y="2510">48</text><text x="21" y="2562">49</text><text x="21" y="2614">50</text><text x="21" y="2666">51</text><text x="21" y="2718">52</text><text x="21" y="2770">53</text><text x="21" y="2822">54</text><text x="21" y="2874">55</text><text x="21" y="2926">56</text>
</g>
<g class="lb">
<text x="666" y="66">1</text><text x="666" y="118">2</text><text x="666" y="170">3</text><text x="666" y="222">4</text><text x="666" y="274">5</text><text x="666" y="326">6</text><text x="666" y="378">7</text><text x="666" y="430">8</text><text x="666" y="482">9</text><text x="666" y="534">10</text><text x="666" y="586">11</text><text x="666" y="638">12</text><text x="666" y="690">13</text><text x="666" y="742">14</text><text x="666" y="794">15</text><text x="666" y="846">16</text><text x="666" y="898">17</text><text x="666" y="950">18</text><text x="666" y="1002">19</text><text x="666" y="1054">20</text><text x="666" y="1106">21</text><text x="666" y="1158">22</text><text x="666" y="1210">23</text><text x="666" y="1262">24</text><text x="666" y="1314">25</text><text x="666" y="1366">26</text><text x="666" y="1418">27</text><text x="666" y="1470">28</text><text x="666" y="1522">29</text><text x="666" y="1574">30</text><text x="666" y="1626">31</text><text x="666" y="1678">32</text><text x="666" y="1730">33</text><text x="666" y="1782">34</text><text x="666" y="1834">35</text><text x="666" y="1886">36</text><text x="666" y="1938">37</text><text x="666" y="1990">38</text><text x="666" y="2042">39</text><text x="666" y="2094">40</text><text x="666" y="2146">41</text><text x="666" y="2198">42</text><text x="666" y="2250">43</text><text x="666" y="2302">44</text><text x="666" y="2354">45</text><text x="666" y="2406">46</text><text x="666" y="2458">47</text><text x="666" y="2510">48</text><text x="666" y="2562">49</text><text x="666" y="2614">50</text><text x="666" y="2666">51</text><text x="666" y="2718">52</text><text x="666" y="2770">53</text><text x="666" y="2822">54</text><text x="666" y="2874">55</text><text x="666" y="2926">56</text>
</g>
</g>
</svg>
